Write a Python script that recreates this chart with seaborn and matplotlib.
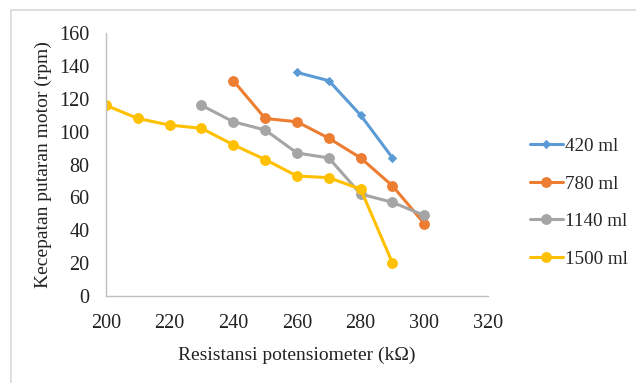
import matplotlib
matplotlib.use("Agg")
import matplotlib.pyplot as plt
import seaborn as sns
import pandas as pd
from matplotlib.patches import Rectangle

x_420 = [260, 270, 280, 290]
y_420 = [136, 131, 110, 84]
x_780 = [240, 250, 260, 270, 280, 290, 300]
y_780 = [131, 108, 106, 96, 84, 67, 44]
x_1140 = [230, 240, 250, 260, 270, 280, 290, 300]
y_1140 = [116, 106, 101, 87, 84, 62, 57, 49]
x_1500 = [200, 210, 220, 230, 240, 250, 260, 270, 280, 290]
y_1500 = [116, 108, 104, 102, 92, 83, 73, 72, 65, 20]
series = ["420 ml", "780 ml", "1140 ml", "1500 ml"]
x_ticks = [200, 220, 240, 260, 280, 300, 320]
y_ticks = [0, 20, 40, 60, 80, 100, 120, 140, 160]

rows = []
for name, xs, ys in zip(series, [x_420, x_780, x_1140, x_1500], [y_420, y_780, y_1140, y_1500]):
    for a, b in zip(xs, ys):
        rows.append({"x": a, "y": b, "s": name})
df = pd.DataFrame(rows)

sns.set_theme(style="white")
plt.rcParams["font.family"] = ["Liberation Serif", "DejaVu Serif"]

fig = plt.figure(figsize=(6.36, 3.83), dpi=100)
top = 1 - 10/383
fig.patches.append(Rectangle((11/636, -0.1), 2, top + 0.1, transform=fig.transFigure,
                             fill=False, edgecolor="#d9d9d9", linewidth=1.2))
ax = fig.add_axes([106/636, 1-296/383, 382/636, 263/383])

colors = ["#5B9BD5", "#ED7D31", "#A5A5A5", "#FFC000"]
markers = ["D", "o", "o", "o"]
sizes = [4.5, 7, 7, 7]
for name, c, m, ms in zip(series, colors, markers, sizes):
    d = df[df["s"] == name]
    sns.lineplot(data=d, x="x", y="y", ax=ax, color=c, marker=m, markersize=ms,
                 markeredgecolor=c, linewidth=2.2, label=name, sort=False)

ax.set_xlim(200, 320)
ax.set_ylim(0, 160)
ax.set_xticks(x_ticks)
ax.set_yticks(y_ticks)
ax.tick_params(axis="x", labelsize=14.5, length=0, pad=13, colors="#222222")
ax.tick_params(axis="y", labelsize=14.5, length=0, pad=12, colors="#222222")
for s in ["top", "right"]:
    ax.spines[s].set_visible(False)
for s in ["left", "bottom"]:
    ax.spines[s].set_color("#bfbfbf")
    ax.spines[s].set_linewidth(1.0)
ax.set_xlabel("Resistansi potensiometer (kΩ)", fontsize=14, color="#222222", labelpad=10)
ax.set_ylabel("Kecepatan putaran motor (rpm)", fontsize=14, color="#222222", labelpad=5)
ax.grid(False)

ax.legend(loc="center left", bbox_to_anchor=(1.09, 0.355), frameon=False, fontsize=13.8,
          handlelength=1.7, handletextpad=0.12, labelspacing=1.05, borderaxespad=0)

fig.savefig("out.png", dpi=100)
